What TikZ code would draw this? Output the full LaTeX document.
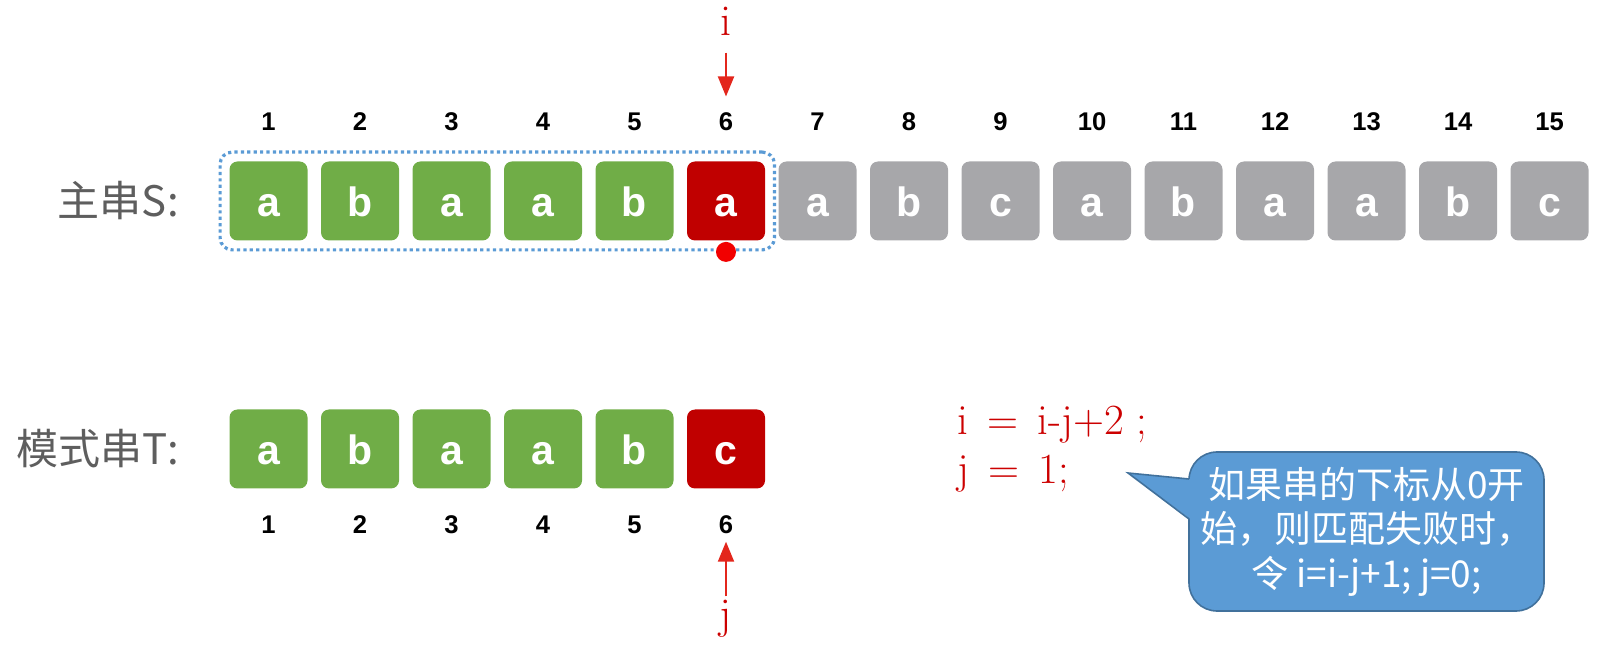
\documentclass[tikz,border=0pt]{standalone}
\usepackage{fontspec}
\setsansfont{Liberation Sans}
\newfontfamily\cjk{Noto Sans CJK SC}
\usepackage{xcolor}
\usetikzlibrary{arrows.meta,positioning,fit}
\definecolor{okgreen}{HTML}{70AD47}
\definecolor{badred}{HTML}{C00000}
\definecolor{waitgray}{HTML}{A7A7AA}
\definecolor{ptrred}{HTML}{E3261C}
\definecolor{formred}{HTML}{CC0000}
\definecolor{notefill}{HTML}{5B9BD5}
\definecolor{noteline}{HTML}{41719C}
\definecolor{labelgray}{HTML}{5E5E5E}
\newcommand{\wsp}{\hspace{0.45em}}

\begin{document}
\begin{tikzpicture}[
  x=0.5pt, y=-0.5pt,
  cell/.style={rounded corners=4pt, minimum width=39pt, minimum height=39.5pt, inner sep=0pt, text height=15.7pt, text depth=0pt, text=white, font=\sffamily\bfseries\fontsize{20.5}{20.5}\selectfont},
  num/.style={font=\sffamily\bfseries\fontsize{12.8}{12.8}\selectfont, text height=9.2pt, text depth=0pt, inner sep=0pt},
  rowname/.style={font=\cjk\fontsize{21}{21}\selectfont, text=labelgray, inner sep=0pt},
  idx/.style={font=\fontsize{22}{22}\selectfont, text=formred, inner sep=0pt},
  rule/.style={anchor=base west, font=\fontsize{21.5}{21.5}\selectfont, text=formred, inner sep=0pt},
  ptr/.style={-{Triangle[width=8pt,length=10pt]}, line width=1pt, ptrred},
  frame/.style={draw=notefill, line width=1.6pt, dash pattern=on 1.6pt off 1.6pt, rounded corners=6pt, inner sep=4.5pt},
  note/.style={draw=noteline, fill=notefill, line width=0.8pt, rounded corners=14pt, minimum width=177.5pt, minimum height=79.5pt, align=center, text=white, font=\cjk\fontsize{18.5}{22.3}\selectfont}
]
\useasboundingbox (0,0) rectangle (1601,646);
% main string S
\foreach \i/\c/\f in {1/a/okgreen,2/b/okgreen,3/a/okgreen,4/a/okgreen,5/b/okgreen,6/a/badred,7/a/waitgray,8/b/waitgray,9/c/waitgray,10/a/waitgray,11/b/waitgray,12/a/waitgray,13/a/waitgray,14/b/waitgray,15/c/waitgray}
  \node[cell, fill=\f] (s\i) at ({268.5+91.5*(\i-1)},201) {\c};
\foreach \i in {1,...,15}
  \node[num, above=15.2pt of s\i] (n\i) {\i};
% pattern string T
\foreach \i/\c/\f in {1/a/okgreen,2/b/okgreen,3/a/okgreen,4/a/okgreen,5/b/okgreen,6/c/badred}
  \node[cell, fill=\f] (t\i) at ({268.5+91.5*(\i-1)},449) {\c};
\foreach \i in {1,...,6}
  \node[num, below=12.8pt of t\i] (m\i) {\i};
\node[rowname, left=25pt of s1] (sname) {主串S:};
\node[rowname, left=25pt of t1] (tname) {模式串T:};
% matched window and pointers
\node[frame, fit=(s1)(s6)] (win) {};
\node[circle, fill=red!95!black, minimum size=10pt, inner sep=0pt] (hit) at ([yshift=-5.5pt]s6.south) {};
\node[idx] (i) at (726,21) {i};
\draw[ptr, shorten <=8.5pt, shorten >=7.5pt] (i) -- (n6);
\node[idx] (j) at (726,618.5) {j};
\draw[ptr, shorten <=1.5pt, shorten >=4pt] (j) -- (m6);
% backtrack rule
\node[rule] (rule1) at (957,435) {i\wsp=\wsp i-j+2\hspace{0.3em};};
\node[rule] (rule2) at (957,484) {j\wsp=\wsp 1;};
% callout
\node[note] (hint) at (1366.5,531.5) {如果串的下标从0开\\始，则匹配失败时，\\令 i=i-j+1; j=0;};
\coordinate (tip) at (1128,473);
\fill[notefill] ([yshift=26.25pt,xshift=1pt]hint.west) -- (tip) -- ([yshift=6.25pt,xshift=1pt]hint.west) -- cycle;
\draw[noteline, line width=0.8pt] ([yshift=26.25pt,xshift=0.4pt]hint.west) -- (tip) -- ([yshift=6.25pt,xshift=0.4pt]hint.west);
\end{tikzpicture}
\end{document}
